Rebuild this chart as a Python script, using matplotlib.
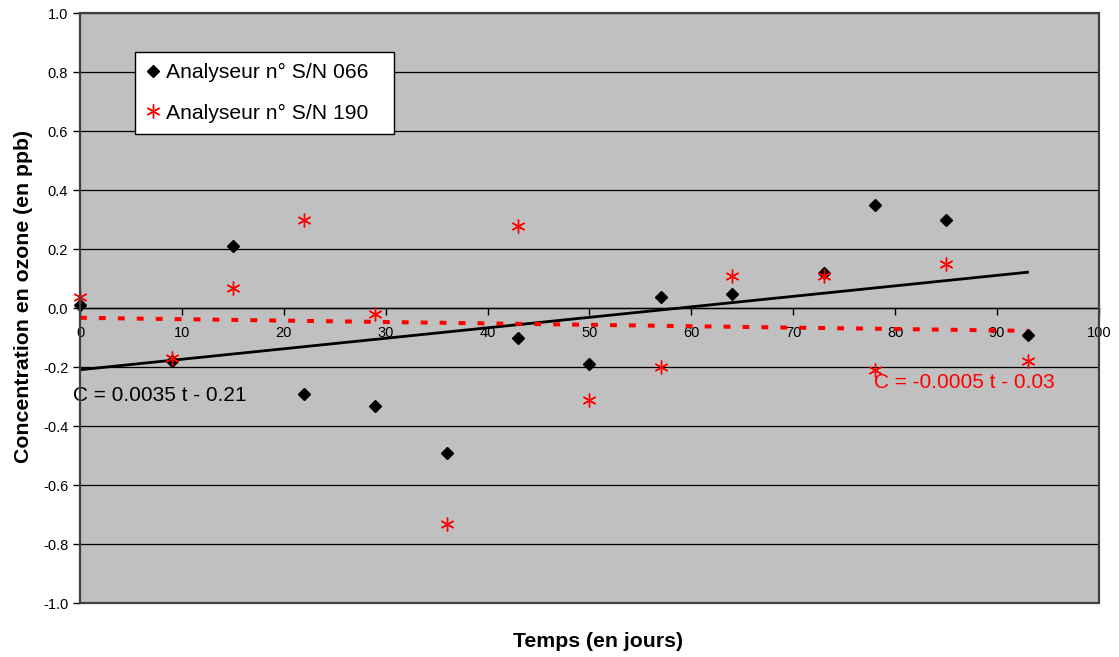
import numpy as np
import matplotlib.pyplot as plt
from matplotlib.patches import Rectangle
from matplotlib.ticker import FormatStrFormatter, MultipleLocator

plt.rcParams['font.family'] = ['Liberation Sans', 'DejaVu Sans']
plt.rcParams['axes.unicode_minus'] = False

# jours de mesure
t = [0, 9, 15, 22, 29, 36, 43, 50, 57, 64, 73, 78, 85, 93]
# concentrations relevees (ppb)
c_066 = [0.01, -0.18, 0.21, -0.29, -0.33, -0.49, -0.10, -0.19, 0.04, 0.05, 0.12, 0.35, 0.30, -0.09]
c_190 = [0.04, -0.17, 0.07, 0.30, -0.02, -0.73, 0.28, -0.31, -0.20, 0.11, 0.11, -0.21, 0.15, -0.18]

label_066 = 'Analyseur n° S/N 066'
label_190 = 'Analyseur n° S/N 190'

# droites de tendance (moindres carres)
p066 = np.polyfit(t, c_066, 1)
p190 = np.polyfit(t, c_190, 1)
t_fit = np.array([t[0], t[-1]])

fig = plt.figure(figsize=(11.19, 6.57), dpi=100)
ax = fig.add_axes([0.0715, 0.0817, 0.9105, 0.898])
ax.set_facecolor('#C0C0C0')

ax.plot(t, c_066, linestyle='none', marker='D', color='black', markersize=6.5,
        label=label_066, zorder=4, clip_on=False)
ax.plot(t, c_190, linestyle='none', marker=(6, 2, 0), color='red', markersize=10,
        markeredgewidth=1.0, label=label_190, zorder=4, clip_on=False)

ax.plot(t_fit, np.polyval(p066, t_fit), color='black', lw=2.0, zorder=3)
ax.plot(t_fit, np.polyval(p190, t_fit), color='red', lw=2.9,
        linestyle=(0, (1.7, 3.0)), zorder=3)

ax.text(-0.7, -0.297, 'C = 0.0035 t - 0.21', fontsize=15, color='black', va='center')
ax.text(77.9, -0.252, 'C = -0.0005 t - 0.03', fontsize=15, color='red', va='center')

ax.set_xlim(0, 100)
ax.set_ylim(-1, 1)
ax.xaxis.set_major_locator(MultipleLocator(10))
ax.yaxis.set_major_locator(MultipleLocator(0.2))
ax.yaxis.set_major_formatter(FormatStrFormatter('%.1f'))
ax.grid(axis='y', color='black', lw=0.9)
ax.set_axisbelow(True)

# axe des temps croise a C = 0 (style tableur)
ax.spines['bottom'].set_position(('data', 0))
for s in ['top', 'right']:
    ax.spines[s].set_visible(False)
ax.spines['left'].set_linewidth(1.2)
ax.spines['bottom'].set_linewidth(1.0)
ax.add_patch(Rectangle((0, 0), 1, 1, transform=ax.transAxes, fill=False,
                       edgecolor='#404040', lw=1.6, zorder=5, clip_on=False))

ax.tick_params(axis='both', direction='out', length=5, width=1, labelsize=10.5, colors='black')
ax.tick_params(axis='x', pad=8)

ax.set_ylabel('Concentration en ozone (en ppb)', fontsize=15.3, fontweight='bold')
ax.yaxis.set_label_coords(-0.046, 0.52)
ax.set_xlabel('Temps (en jours)', fontsize=15.3, fontweight='bold')
ax.xaxis.set_label_coords(0.508, -0.048)

leg = ax.legend(loc='upper left', bbox_to_anchor=(0.054, 0.793, 0.254, 0.142),
                mode='expand', borderaxespad=0,
                fontsize=15.2, frameon=True, fancybox=False, framealpha=1,
                edgecolor='black', handlelength=0.6, handletextpad=0.3,
                labelspacing=1.0, borderpad=0.55)
leg.get_frame().set_linewidth(1.0)

fig.savefig('out.png', dpi=100)
